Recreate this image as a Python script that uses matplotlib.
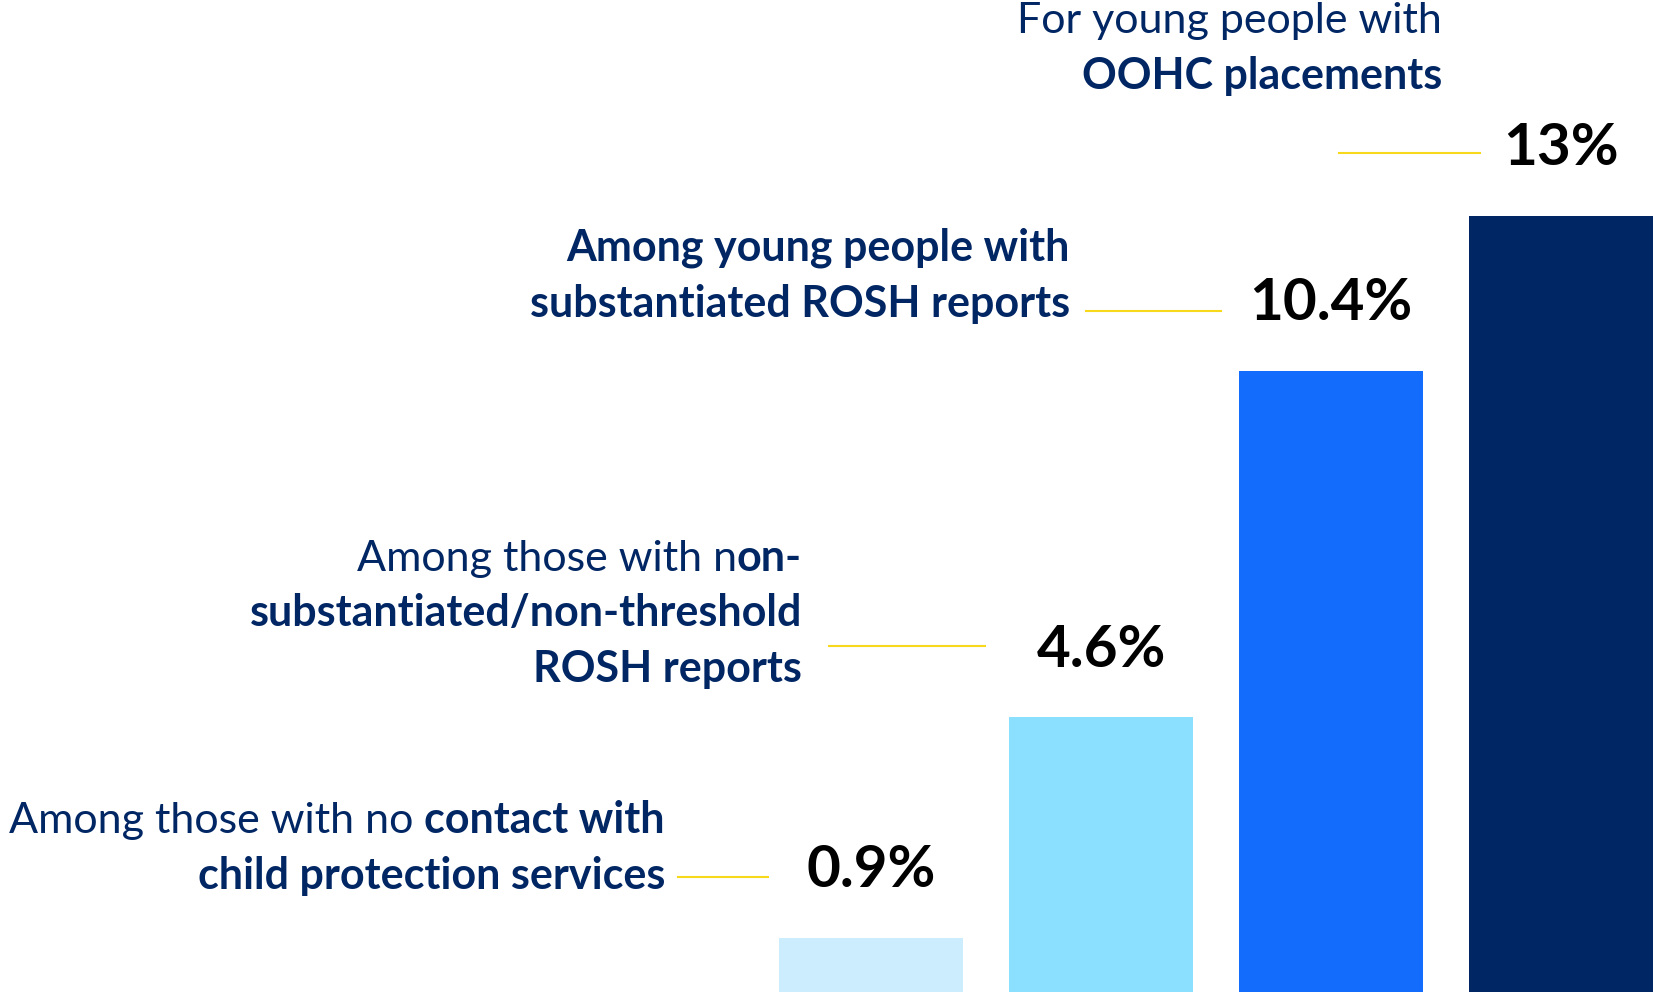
import matplotlib
matplotlib.use("Agg")
import matplotlib.pyplot as plt
from matplotlib.transforms import IdentityTransform

# ---- data ----
categories = [
    "No contact with child protection services",
    "Non-substantiated/non-threshold ROSH reports",
    "Substantiated ROSH reports",
    "OOHC placements",
]
values = [0.9, 4.6, 10.4, 13.0]
value_labels = ["0.9%", "4.6%", "10.4%", "13%"]

# label text: list of lines, each line a list of (segment, bold); a trailing
# space in a segment means a word gap before the next segment
label_lines = [
    [[("Among those with no ", False), ("contact with", True)],
     [("child protection services", True)]],
    [[("Among those with n", False), ("on-", True)],
     [("substantiated/non-threshold", True)],
     [("ROSH reports", True)]],
    [[("Among young people with", True)],
     [("substantiated ROSH reports", True)]],
    [[("For young people with", False)],
     [("OOHC placements", True)]],
]

# ---- style ----
bar_colors = ["#CBEDFD", "#8CE0FF", "#146CFD", "#002664"]
text_color = "#002664"
line_color = "#F8D81A"
FONT = ["Lato", "DejaVu Sans"]

W, H = 1654, 992
fig = plt.figure(figsize=(W / 100, H / 100), dpi=100)
ax = fig.add_axes([0, 0, 1, 1])
x = list(range(len(values)))
ax.bar(x, values, width=0.8, color=bar_colors)
ax.set_xlim(-3.787, 3.404)
ax.set_ylim(0, 16.62)
ax.axis("off")

# value labels above bars
for xi, v, lab in zip(x, values, value_labels):
    ax.annotate(lab, xy=(xi, v), xytext=(0, 48.5), textcoords="offset points",
                ha="center", va="center", fontsize=42, fontweight="bold",
                color="black", family=FONT)

# leader lines (pixel layout: left x, right x, y)
leader_px = [(678, 768, 877), (829, 985, 646), (1086, 1221, 311), (1339, 1480, 153)]
for (x0, x1, yy) in leader_px:
    fig.add_artist(plt.Line2D([x0, x1], [H - yy, H - yy], transform=IdentityTransform(),
                              color=line_color, lw=1.5))

# category labels (right edge px, first baseline px)
label_pos = [(665, 833), (802, 571), (1070, 261), (1442, 33)]
line_gap = 55.5
fs = 31
fig.canvas.draw()
renderer = fig.canvas.get_renderer()

def text_width(s, bold):
    t = fig.text(0, 0, s, fontsize=fs, fontweight="bold" if bold else "normal",
                 family=FONT, transform=IdentityTransform())
    w = t.get_window_extent(renderer).width
    t.remove()
    return w

space_w = text_width("x x", False) - text_width("xx", False)

for lines, (rx, by) in zip(label_lines, label_pos):
    for i, segs in enumerate(lines):
        cur = rx
        ypix = H - (by + i * line_gap)
        for s, bold in reversed(segs):
            if s.endswith(" "):
                cur -= space_w
                s = s.rstrip()
            t = fig.text(cur, ypix, s, fontsize=fs, fontweight="bold" if bold else "normal",
                         color=text_color, family=FONT, ha="right", va="baseline",
                         transform=IdentityTransform())
            cur -= t.get_window_extent(renderer).width

fig.savefig("out.png", dpi=100)
